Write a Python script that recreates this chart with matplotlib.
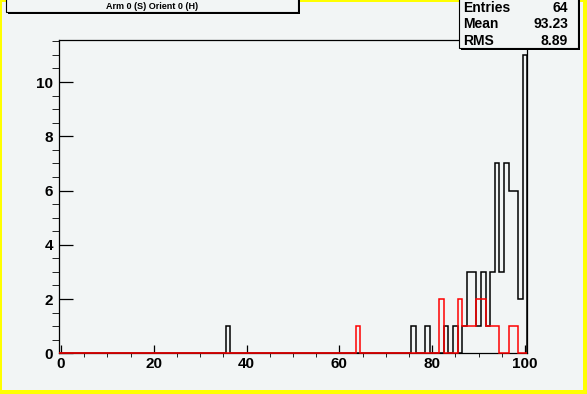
import numpy as np
import matplotlib.pyplot as plt
from matplotlib.patches import Rectangle
from matplotlib.ticker import MultipleLocator

# histogram contents (bin centre -> count)
black_bins = [36, 76, 79, 83, 85, 87, 88, 89, 90, 91, 92, 93, 94, 95, 96, 97, 98, 99, 100]
black_counts = [1, 1, 1, 1, 1, 1, 3, 3, 1, 3, 1, 3, 7, 3, 7, 6, 6, 2, 11]
red_bins = [64, 82, 86, 87, 88, 89, 90, 91, 92, 93, 94, 97, 98]
red_counts = [1, 2, 2, 1, 1, 1, 2, 2, 1, 1, 1, 1, 1]

x_ticks = [0, 20, 40, 60, 80, 100]
y_ticks = [0, 2, 4, 6, 8, 10]
title = 'Arm 0 (S) Orient 0 (H)'
stat_names = ['Entries', 'Mean', 'RMS']
stat_values = ['64', '93.23', '8.89']

edges = np.arange(-0.5, 101.0, 1.0)


def to_hist(bins, counts):
    h = np.zeros(len(edges) - 1)
    h[np.array(bins)] = counts
    return h


black = to_hist(black_bins, black_counts)
red = to_hist(red_bins, red_counts)

W, H = 587, 394
bg = '#f2f5f5'
font = 'Liberation Sans'

fig = plt.figure(figsize=(W / 100, H / 100), dpi=100)
fig.patch.set_facecolor('#ffff00')
fig.add_artist(Rectangle((2 / W, 4 / H), (W - 6) / W, (H - 6) / H,
                         transform=fig.transFigure, facecolor=bg,
                         edgecolor='none', zorder=-10))

ax = fig.add_axes([58.7 / W, 1 - 353.3 / H, (527.3 - 58.7) / W, (353.3 - 40) / H])
ax.set_facecolor(bg)
ax.stairs(black, edges, color='black', lw=1.1, baseline=0, zorder=3, clip_on=False)
ax.stairs(red, edges, color='red', lw=1.1, baseline=0, zorder=4, clip_on=False)

ax.set_xlim(-0.5, 100.5)
ax.set_ylim(0, 11.55)
ax.set_xticks(x_ticks)
ax.set_yticks(y_ticks)
ax.xaxis.set_minor_locator(MultipleLocator(5))
ax.yaxis.set_minor_locator(MultipleLocator(0.5))
ax.tick_params(direction='in', top=False, right=False, width=0.9, colors='black')
ax.tick_params(axis='x', which='major', length=5.8, pad=3)
ax.tick_params(axis='x', which='minor', length=2.9)
ax.tick_params(axis='y', which='major', length=10, pad=4)
ax.tick_params(axis='y', which='minor', length=5)
for lab in ax.get_xticklabels() + ax.get_yticklabels():
    lab.set_fontfamily(font)
    lab.set_fontweight('bold')
    lab.set_fontsize(11)
for sp in ax.spines.values():
    sp.set_linewidth(0.9)
    sp.set_color('black')


def px_box(x0, y0, x1, y1, **kw):
    return Rectangle((x0 / W, 1 - y1 / H), (x1 - x0) / W, (y1 - y0) / H,
                     transform=fig.transFigure, **kw)


# title box with shadow
fig.add_artist(px_box(8, -5, 300, 14, facecolor='black', edgecolor='none', zorder=5))
fig.add_artist(px_box(6, -5, 298, 12, facecolor=bg, edgecolor='black', lw=0.8, zorder=6))
fig.text(152 / W, 1 - 6.5 / H, title, ha='center', va='center', fontsize=6.5,
         fontweight='bold', family=font, zorder=7)

# stats box with shadow
fig.add_artist(px_box(461, -5, 580, 50, facecolor='black', edgecolor='none', zorder=5))
fig.add_artist(px_box(459, -5, 578, 48, facecolor=bg, edgecolor='black', lw=0.8, zorder=6))
for i, (name, val) in enumerate(zip(stat_names, stat_values)):
    y = 1 - (7.5 + 16.8 * i) / H
    fig.text(463 / W, y, name, ha='left', va='center', fontsize=10,
             fontweight='bold', family=font, zorder=7)
    fig.text(568 / W, y, val, ha='right', va='center', fontsize=10,
             fontweight='bold', family=font, zorder=7)

fig.savefig('out.png', dpi=100, facecolor=fig.get_facecolor())
